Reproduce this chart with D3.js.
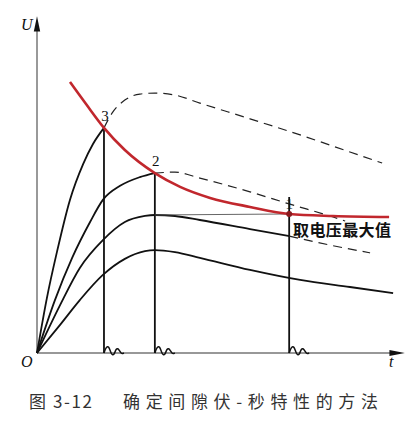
<!DOCTYPE html>
<html>
<head>
<meta charset="utf-8">
<script src="https://cdn.jsdelivr.net/npm/d3@7"></script>
<style>
  body { margin: 0; background: #fff; }
  svg { display: block; }
</style>
</head>
<body>
<div id="chart"></div>
<script>
// curve 3: breaks down on the front
const c3T = [0, 0.27, 0.55, 0.90, 1.26, 1.53, 1.83];
const c3U = [0, 1.64, 3.04, 4.57, 5.64, 6.24, 6.72];
const c3DashT = [1.83, 2.05, 2.40, 2.81, 3.22, 3.77, 4.45, 5.82, 7.19, 8.55, 9.43];
const c3DashU = [6.72, 7.16, 7.55, 7.73, 7.76, 7.70, 7.46, 6.99, 6.51, 6.00, 5.67];

// curve 2: breaks down at the peak
const c2T = [0, 0.49, 0.96, 1.45, 1.80, 2.27, 2.81, 3.22];
const c2U = [0, 1.58, 2.84, 3.91, 4.57, 4.99, 5.25, 5.37];
const c2DashT = [3.22, 3.77, 4.45, 5.82, 6.89, 8.09, 8.42];
const c2DashU = [5.37, 5.40, 5.22, 4.81, 4.45, 4.06, 3.94];

// curve 1: breaks down on the tail
const c1T = [0, 0.63, 1.17, 1.80, 2.40, 2.95, 3.22, 3.77, 4.45, 5.82, 6.89];
const c1U = [0, 1.43, 2.54, 3.37, 3.91, 4.09, 4.12, 4.09, 3.97, 3.70, 3.49];
const c1DashT = [6.89, 8.01, 9.10];
const c1DashU = [3.49, 3.22, 2.99];

// curve 0: no breakdown
const c0T = [0, 0.63, 1.17, 1.80, 2.40, 2.95, 3.22, 3.77, 4.45, 5.82, 7.19, 8.55, 9.73];
const c0U = [0, 0.84, 1.58, 2.33, 2.81, 3.04, 3.07, 3.01, 2.84, 2.48, 2.18, 1.97, 1.79];

// volt-second characteristic (red)
const vsT = [0.90, 1.34, 1.83, 2.40, 3.22, 3.91, 4.73, 5.82, 6.89, 8.09, 9.62];
const vsU = [8.09, 7.43, 6.72, 6.06, 5.37, 4.96, 4.63, 4.36, 4.15, 4.09, 4.06];

// breakdown points
const bdT = [1.83, 3.22, 6.89];
const bdU = [6.72, 5.37, 4.15];
const bdLabels = ["3", "2", "1"];
const peak1 = [3.22, 4.12];

const width = 420, height = 422;
const red = "#c1272d";

const svg = d3.select("#chart").append("svg")
  .attr("width", width)
  .attr("height", height);

const x = d3.scaleLinear().domain([0, 10]).range([37, 403]);
const y = d3.scaleLinear().domain([0, 10]).range([353, 18]);

const zip = (ts, us) => ts.map((t, i) => [t, us[i]]);
const line = d3.line().x(d => x(d[0])).y(d => y(d[1])).curve(d3.curveMonotoneX);

// axes
svg.append("line")
  .attr("x1", x(0)).attr("x2", x(0))
  .attr("y1", y(0)).attr("y2", y(9.7))
  .attr("stroke", "#555").attr("stroke-width", 1.2);
svg.append("path")
  .attr("d", `M${x(0)},${y(10.05)} L${x(0) - 3.2},${y(9.6)} L${x(0) + 3.2},${y(9.6)} Z`)
  .attr("fill", "#111");
svg.append("line")
  .attr("x1", x(0)).attr("x2", x(9.7))
  .attr("y1", y(0)).attr("y2", y(0))
  .attr("stroke", "#333").attr("stroke-width", 1.2);
svg.append("path")
  .attr("d", `M${x(10.05)},${y(0)} L${x(9.63)},${y(0) - 3} L${x(9.63)},${y(0) + 3} Z`)
  .attr("fill", "#111");

// vertical breakdown lines
svg.selectAll(".bd")
  .data(bdT)
  .enter().append("line")
  .attr("class", "bd")
  .attr("x1", d => x(d)).attr("x2", d => x(d))
  .attr("y1", y(0))
  .attr("y2", (d, i) => i === 2 ? y(bdU[i]) - 17 : y(bdU[i]))
  .attr("stroke", "#111").attr("stroke-width", 1.8);

// squiggles at the foot of each line
const wiggle = d3.line().curve(d3.curveBasis);
const wigglePts = [[0, 0], [2, -6], [5, -7], [7, 1], [10, 3], [12, -5], [15, -4], [17, 1], [20, 0]];
svg.selectAll(".wig")
  .data(bdT)
  .enter().append("path")
  .attr("class", "wig")
  .attr("transform", d => `translate(${x(d)},${y(0)})`)
  .attr("d", wiggle(wigglePts))
  .attr("fill", "none")
  .attr("stroke", "#111").attr("stroke-width", 1.5);

// solid curves
[[c3T, c3U], [c2T, c2U], [c1T, c1U], [c0T, c0U]].forEach(([ts, us]) => {
  svg.append("path")
    .attr("d", line(zip(ts, us)))
    .attr("fill", "none")
    .attr("stroke", "#111").attr("stroke-width", 1.8);
});

// dashed continuations
[[c3DashT, c3DashU], [c2DashT, c2DashU], [c1DashT, c1DashU]].forEach(([ts, us]) => {
  svg.append("path")
    .attr("d", line(zip(ts, us)))
    .attr("fill", "none")
    .attr("stroke", "#222").attr("stroke-width", 1.2)
    .attr("stroke-dasharray", "9 6");
});

// thin line from peak of curve 1 to point 1
svg.append("line")
  .attr("x1", x(peak1[0])).attr("y1", y(peak1[1]))
  .attr("x2", x(bdT[2])).attr("y2", y(bdU[2]))
  .attr("stroke", "#555").attr("stroke-width", 0.9);

// volt-second curve
svg.append("path")
  .attr("d", line(zip(vsT, vsU)))
  .attr("fill", "none")
  .attr("stroke", red).attr("stroke-width", 2.6);

svg.append("circle")
  .attr("cx", x(bdT[2])).attr("cy", y(bdU[2]))
  .attr("r", 3)
  .attr("fill", "#8a1a1e");

// point labels
const labelDx = [1, 1, 0];
const labelDy = [-7, -7, -5];
svg.selectAll(".bdl")
  .data(bdLabels)
  .enter().append("text")
  .attr("class", "bdl")
  .attr("x", (d, i) => x(bdT[i]) + labelDx[i])
  .attr("y", (d, i) => y(bdU[i]) + labelDy[i])
  .attr("text-anchor", "middle")
  .attr("font-family", "Liberation Serif, serif")
  .attr("font-size", 15)
  .attr("fill", "#111")
  .text(d => d);

// axis labels
const serifItalic = sel => sel
  .attr("font-family", "Liberation Serif, serif")
  .attr("font-style", "italic")
  .attr("font-size", 16)
  .attr("fill", "#111");
svg.append("text").attr("x", 21).attr("y", 30).text("U").call(serifItalic);
svg.append("text").attr("x", 21).attr("y", 367).text("O").call(serifItalic);
svg.append("text").attr("x", 389).attr("y", 367).text("t").call(serifItalic);

svg.append("text")
  .attr("x", 293).attr("y", 236)
  .attr("font-family", "Noto Sans CJK SC, sans-serif")
  .attr("font-weight", "bold")
  .attr("font-size", 16)
  .attr("textLength", 98)
  .attr("fill", "#111")
  .text("取电压最大值");

// caption
svg.append("text")
  .attr("x", 29).attr("y", 408)
  .attr("font-family", "Noto Sans CJK SC, sans-serif")
  .attr("font-size", 17)
  .attr("textLength", 63)
  .attr("lengthAdjust", "spacing")
  .attr("fill", "#333")
  .text("图 3-12");
svg.append("text")
  .attr("x", 123).attr("y", 408)
  .attr("font-family", "Noto Sans CJK SC, sans-serif")
  .attr("font-size", 17)
  .attr("textLength", 255)
  .attr("lengthAdjust", "spacing")
  .attr("fill", "#333")
  .text("确定间隙伏-秒特性的方法");
</script>
</body>
</html>
